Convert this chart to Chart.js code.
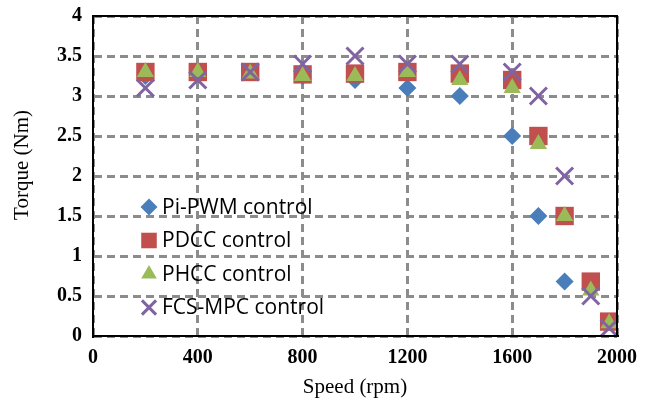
<!DOCTYPE html>
<html>
<head>
<meta charset="utf-8">
<script src="https://cdn.jsdelivr.net/npm/chart.js@4"></script>
<style>
html,body{margin:0;padding:0;background:#fff;}
#wrap{width:645px;height:404px;position:relative;}
</style>
</head>
<body>
<div id="wrap"><canvas id="c" width="645" height="404"></canvas></div>
<script>
const speeds = [200, 400, 600, 800, 1000, 1200, 1400, 1600, 1700, 1800, 1900, 1970];
const piPwm = [3.25, 3.3, 3.3, 3.25, 3.2, 3.1, 3.0, 2.5, 1.5, 0.68, null, null];
const pdcc  = [3.3, 3.3, 3.3, 3.27, 3.28, 3.3, 3.28, 3.2, 2.5, 1.5, 0.68, 0.18];
const phcc  = [3.3, 3.3, 3.28, 3.25, 3.25, 3.3, 3.2, 3.1, 2.4, 1.5, 0.57, 0.16];
const fcsMpc = [3.1, 3.2, 3.3, 3.4, 3.5, 3.4, 3.4, 3.3, 3.0, 2.0, 0.5, 0.1];
const seriesNames = ['Pi-PWM control', 'PDCC control', 'PHCC control', 'FCS-MPC control'];
const xTicks = [0, 400, 800, 1200, 1600, 2000];
const xTickLabels = ['0', '400', '800', '1200', '1600', '2000'];
const yTicks = [0, 0.5, 1, 1.5, 2, 2.5, 3, 3.5, 4];
const yTickLabels = ['0', '0.5', '1', '1.5', '2', '2.5', '3', '3.5', '4'];
const xTitle = 'Speed (rpm)';
const yTitle = 'Torque (Nm)';

function pts(vals){
  const out = [];
  speeds.forEach((s,i)=>{ if(vals[i]!==null) out.push({x:s,y:vals[i]}); });
  return out;
}

const styles = [
  {pointStyle:'rectRot', radius:9, color:'#4A7EBB', fill:true},
  {pointStyle:'rect', radius:13, color:'#C0504D', fill:true},
  {pointStyle:'triangle', radius:10, color:'#9BBB59', fill:true},
  {pointStyle:'crossRot', radius:12, color:'#8064A2', fill:false}
];
const allVals = [piPwm, pdcc, phcc, fcsMpc];

const datasets = allVals.map((v,i)=>({
  label: seriesNames[i],
  data: pts(v),
  showLine:false,
  pointStyle: styles[i].pointStyle,
  pointRadius: styles[i].radius,
  pointHoverRadius: styles[i].radius,
  backgroundColor: styles[i].color,
  borderColor: styles[i].color,
  pointBorderWidth: styles[i].fill ? 0 : 3,
  order: 4 - i
}));

const frame = {
  id:'frame',
  afterDraw(chart){
    const {ctx, chartArea:a} = chart;
    ctx.save();
    ctx.strokeStyle = '#000';
    ctx.lineWidth = 2;
    ctx.strokeRect(a.left, a.top, a.right - a.left, a.bottom - a.top);
    // y axis title
    ctx.fillStyle = '#000';
    ctx.font = '21px "Liberation Serif", serif';
    ctx.textAlign = 'center';
    ctx.textBaseline = 'middle';
    ctx.translate(22, 165);
    ctx.rotate(-Math.PI/2);
    ctx.fillText(yTitle, 0, 0);
    ctx.restore();
  }
};

const legendIn = {
  id:'legendIn',
  afterDraw(chart){
    const {ctx, chartArea:a} = chart;
    ctx.save();
    const x0 = a.left + 56, y0 = a.top + 191, step = 33.5;
    ctx.font = '21px "Open Sans", sans-serif';
    ctx.textBaseline = 'middle';
    ctx.textAlign = 'left';
    seriesNames.forEach((n,i)=>{
      const y = y0 + i*step;
      const st = styles[i];
      ctx.fillStyle = st.color;
      ctx.strokeStyle = st.color;
      ctx.lineWidth = 3;
      Chart.helpers.drawPoint(ctx, {
        pointStyle: st.pointStyle,
        radius: st.pointStyle==='rect' ? 11 : (st.pointStyle==='crossRot' ? 10 : (st.pointStyle==='triangle'?9:8.5)),
        rotation:0,
        borderWidth: st.fill ? 0 : 3
      }, x0, y);
      ctx.fillStyle = '#000';
      ctx.fillText(n, x0 + 13, y + 1);
    });
    ctx.restore();
  }
};

const gridStyle = {
  color:'#8C8C8C',
  lineWidth:3,
  drawTicks:false
};

new Chart(document.getElementById('c'), {
  type:'scatter',
  data:{datasets},
  options:{
    responsive:false,
    animation:false,
    devicePixelRatio:1,
    layout:{padding:{left:0,right:28,top:16,bottom:0}},
    plugins:{legend:{display:false}, tooltip:{enabled:false}},
    scales:{
      x:{
        type:'linear', min:0, max:2000,
        afterBuildTicks(s){ s.ticks = xTicks.map(v=>({value:v})); },
        afterFit(s){ s.height = 68; s.paddingLeft = 0; s.paddingRight = 0; },
        grid:gridStyle,
        border:{display:true, color:'#000', width:2, dash:[8,5]},
        ticks:{padding:10, color:'#000', font:{family:'"Liberation Serif"', size:20, weight:'bold'}, maxRotation:0,
          callback:(v)=>{ const i = xTicks.indexOf(v); return i>=0 ? xTickLabels[i] : ''; }},
        title:{display:true, text:xTitle, color:'#000', font:{family:'"Liberation Serif"', size:21}, padding:{top:4}}
      },
      y:{
        type:'linear', min:0, max:4,
        afterBuildTicks(s){ s.ticks = yTicks.map(v=>({value:v})); },
        afterFit(s){ s.width = 93; s.paddingTop = 0; s.paddingBottom = 0; },
        grid:gridStyle,
        border:{display:true, color:'#000', width:2, dash:[8,5]},
        ticks:{padding:11, color:'#000', font:{family:'"Liberation Serif"', size:20, weight:'bold'},
          callback:(v)=>{ const i = yTicks.indexOf(v); return i>=0 ? yTickLabels[i] : ''; }},
        title:{display:false}
      }
    }
  },
  plugins:[frame, legendIn]
});
</script>
</body>
</html>
